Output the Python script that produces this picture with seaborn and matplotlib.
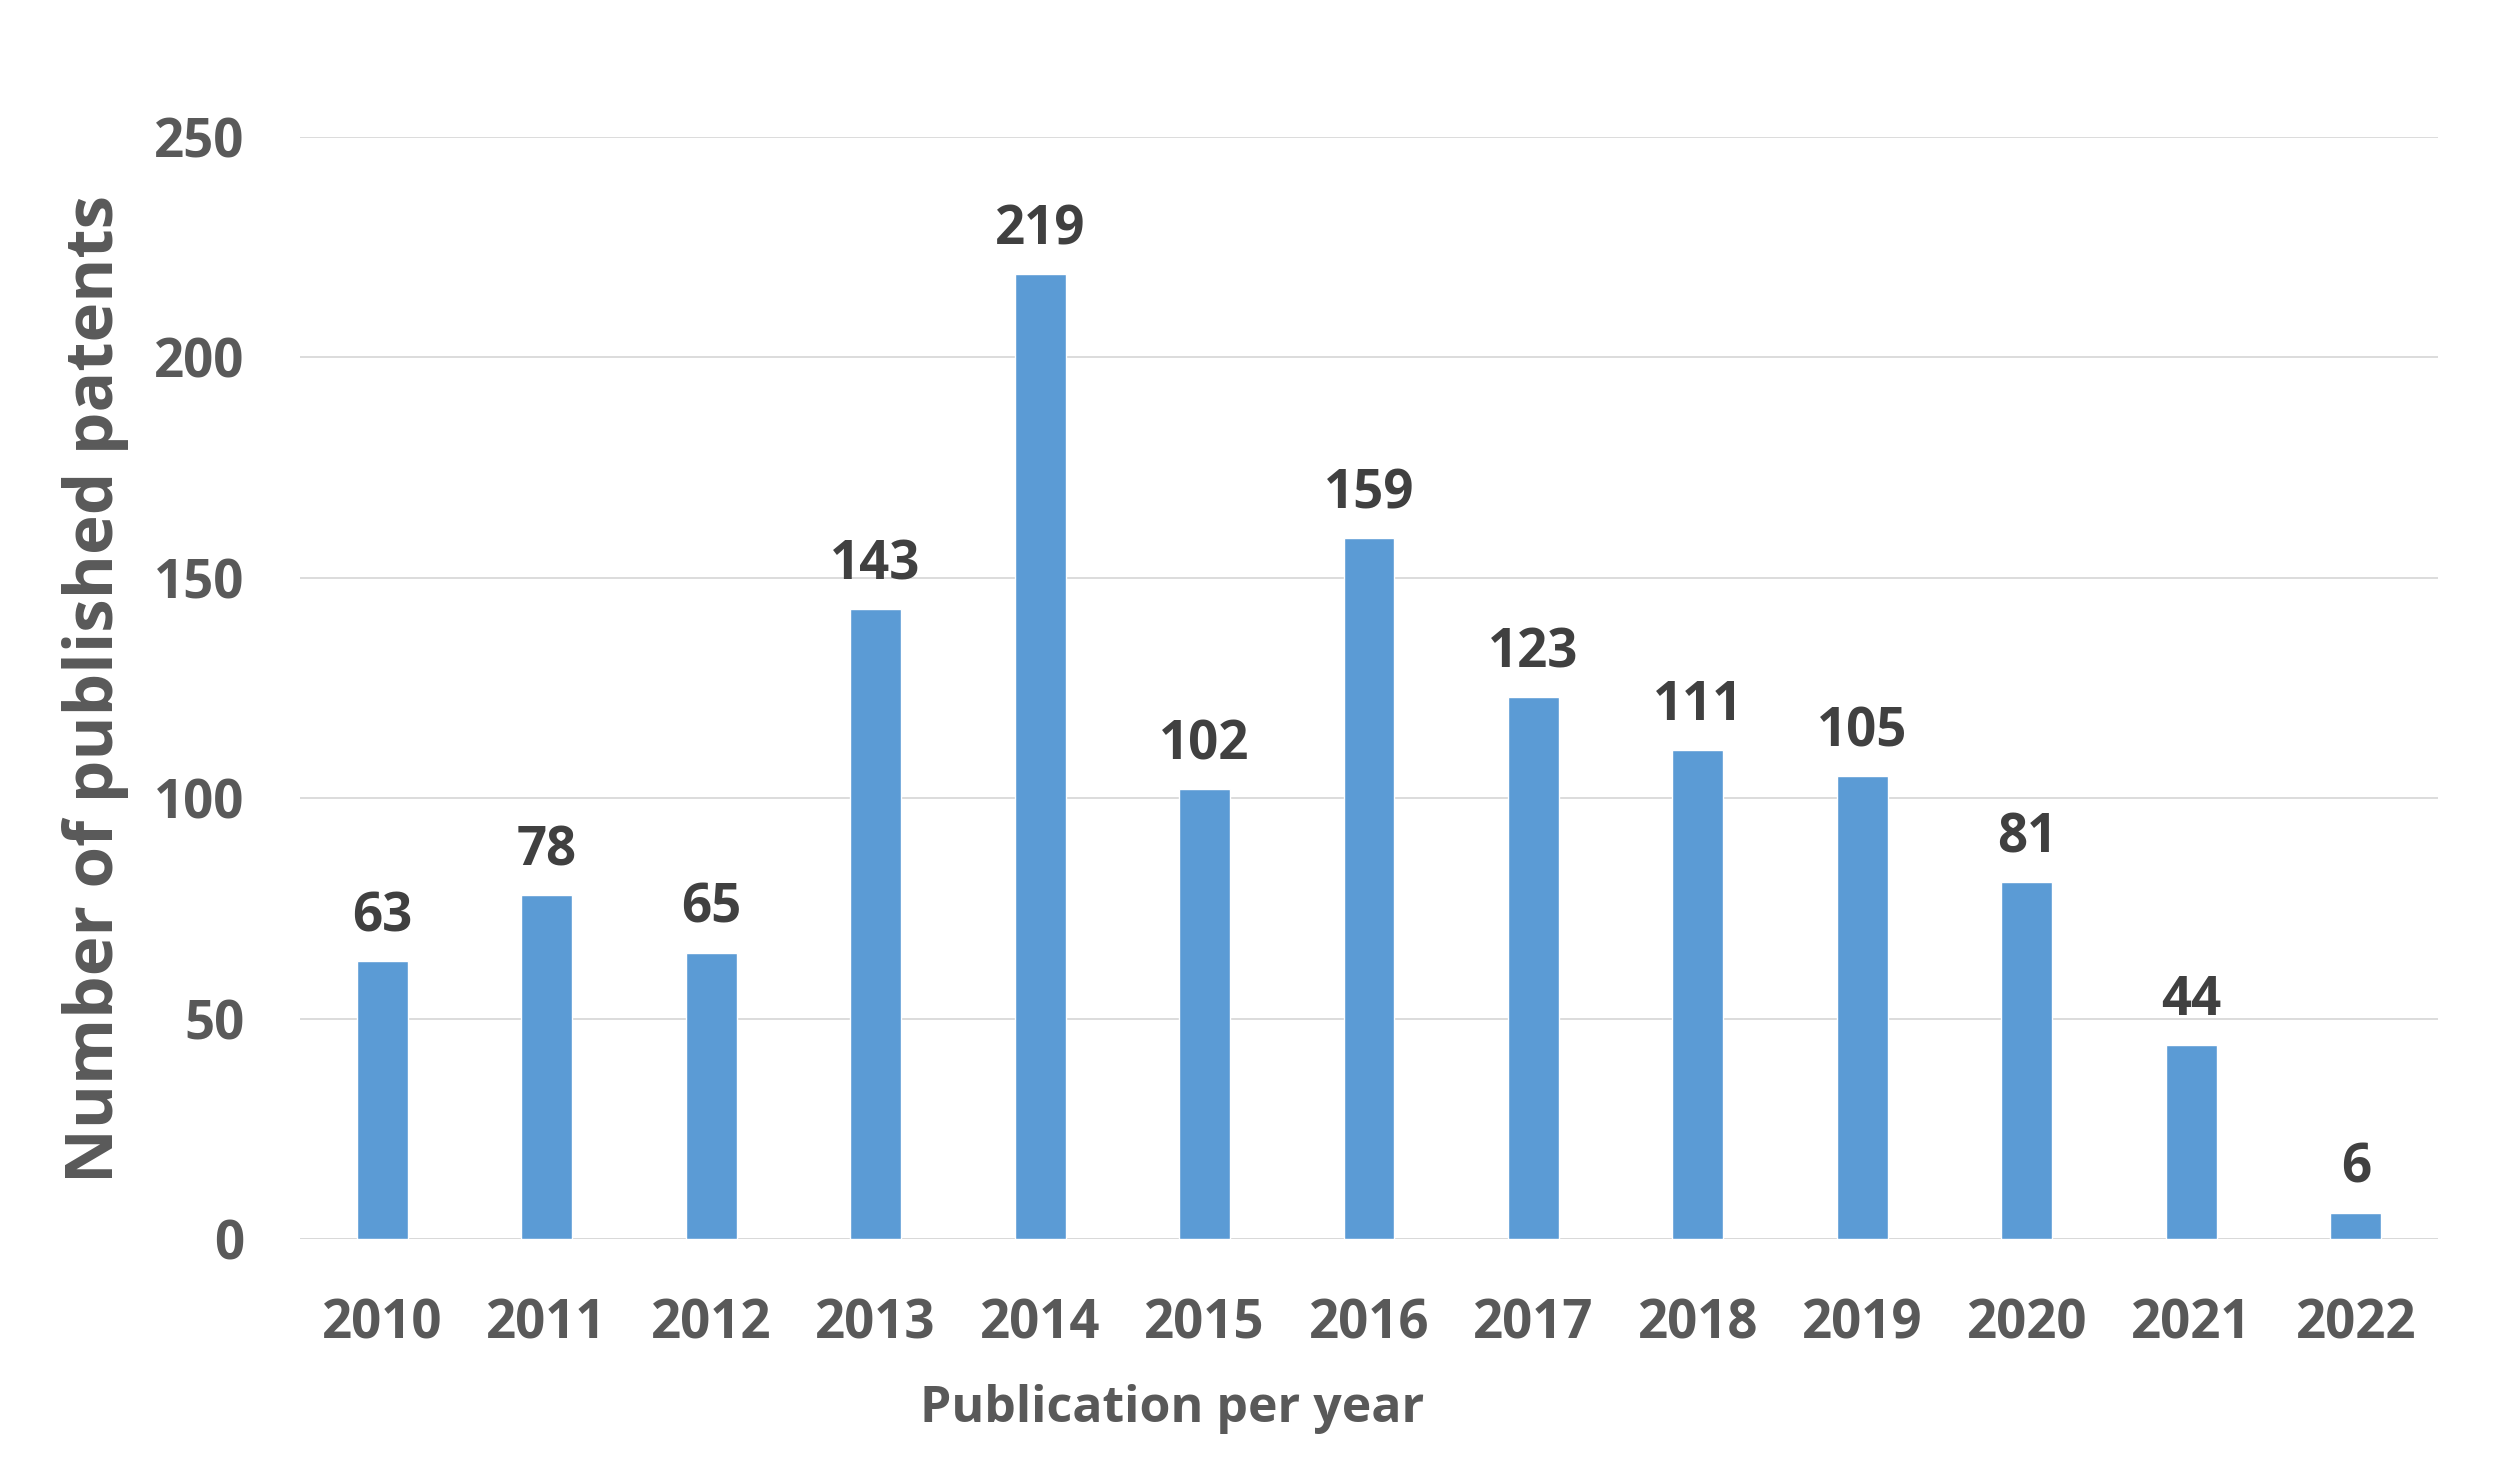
import matplotlib
matplotlib.use("Agg")
import matplotlib.pyplot as plt
import seaborn as sns
import pandas as pd

years = ["2010", "2011", "2012", "2013", "2014", "2015", "2016",
         "2017", "2018", "2019", "2020", "2021", "2022"]
patents = [63, 78, 65, 143, 219, 102, 159, 123, 111, 105, 81, 44, 6]
yticks = [0, 50, 100, 150, 200, 250]

df = pd.DataFrame({"year": years, "patents": patents})

sns.set_style("white")
plt.rcParams["font.family"] = ["Open Sans", "DejaVu Sans"]

fig = plt.figure(figsize=(25, 14.8), dpi=100)
ax = fig.add_axes([0.12, 0.1628, 0.9752 - 0.12, 0.9074 - 0.1628])

sns.barplot(data=df, x="year", y="patents", color="#5B9BD5", saturation=1,
            width=0.31, ax=ax, zorder=3)

ax.set_ylim(0, 250)
ax.set_xlim(-0.5, len(years) - 0.5)
ax.set_yticks(yticks)
ax.yaxis.grid(True, color="#D9D9D9", linewidth=1.3, zorder=0)
ax.axhline(0, color="#D9D9D9", linewidth=1.8, zorder=2)
for s in ax.spines.values():
    s.set_visible(False)

ax.tick_params(axis="both", length=0, labelsize=38, labelcolor="#595959")
ax.tick_params(axis="x", pad=42)
ax.tick_params(axis="y", pad=40)
for lab in ax.get_xticklabels() + ax.get_yticklabels():
    lab.set_fontweight("bold")

for cont in ax.containers:
    ax.bar_label(cont, labels=[str(v) for v in patents], padding=12,
                 fontsize=38, fontweight="bold", color="#404040")

ax.set_xlabel("")
ax.set_ylabel("")
fig.text(96 / 2500, 1 - 689 / 1480, "Number of published patents", rotation=90,
         ha="center", va="center", fontsize=48.5, fontweight="bold", color="#595959")
fig.text(1172 / 2500, 1 - 1409 / 1480, "Publication per year",
         ha="center", va="center", fontsize=36, fontweight="bold", color="#595959")

fig.savefig("out.png", dpi=100, facecolor="white")
